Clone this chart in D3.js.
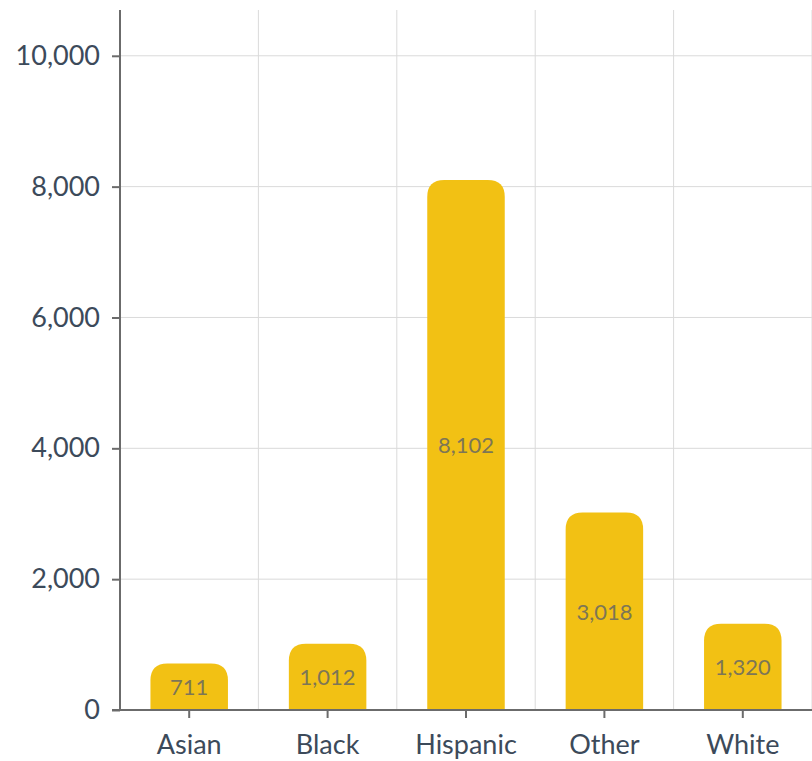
<!DOCTYPE html>
<html>
<head>
<meta charset="utf-8">
<script src="https://cdn.jsdelivr.net/npm/d3@7"></script>
<style>
  html, body { margin: 0; padding: 0; background: #fff; }
  svg { display: block; font-family: Lato, "Open Sans", sans-serif; }
</style>
</head>
<body>
<svg id="chart" width="812" height="761"></svg>
<script>
// Counts by group
const categories = ["Asian", "Black", "Hispanic", "Other", "White"];
const counts = [711, 1012, 8102, 3018, 1320];
const yTicks = [0, 2000, 4000, 6000, 8000, 10000];
const yMax = 10700;

const svg = d3.select("#chart");
const plotLeft = 120, plotRight = 812, plotTop = 10, plotBottom = 710;

const x = d3.scaleBand().domain(categories).range([plotLeft, plotRight]).paddingInner(0.44).paddingOuter(0.22);
const y = d3.scaleLinear().domain([0, yMax]).range([plotBottom, plotTop]);

// Horizontal grid
svg.append("g").selectAll("line").data(yTicks).join("line")
  .attr("x1", plotLeft).attr("x2", plotRight)
  .attr("y1", d => y(d)).attr("y2", d => y(d))
  .attr("stroke", "#dadada").attr("stroke-width", 1);

// Vertical grid at category boundaries
const step = x.step();
const bounds = categories.map((c, i) => plotLeft + step * (i + 1));
svg.append("g").selectAll("line").data(bounds).join("line")
  .attr("x1", d => d).attr("x2", d => d)
  .attr("y1", plotTop).attr("y2", plotBottom)
  .attr("stroke", "#dadada").attr("stroke-width", 1);

// Bars with rounded tops
const radius = 17;
function barPath(x0, w, yTop, yBase) {
  const rr = Math.min(radius, w / 2, (yBase - yTop));
  return `M${x0},${yBase}V${yTop + rr}Q${x0},${yTop} ${x0 + rr},${yTop}H${x0 + w - rr}Q${x0 + w},${yTop} ${x0 + w},${yTop + rr}V${yBase}Z`;
}
const data = categories.map((c, i) => ({ c, v: counts[i] }));
svg.append("g").selectAll("path").data(data).join("path")
  .attr("d", d => barPath(x(d.c), x.bandwidth(), y(d.v), y(0)))
  .attr("fill", "#f2c114");

// Value labels centred in each bar
svg.append("g").selectAll("text").data(data).join("text")
  .attr("x", d => x(d.c) + x.bandwidth() / 2)
  .attr("y", d => (y(d.v) + y(0)) / 2)
  .attr("text-anchor", "middle").attr("dominant-baseline", "central")
  .attr("font-size", 22)
  .attr("fill", "#7d7656")
  .text(d => d3.format(",")(d.v));

// Axes
const axisColor = "#6b6b6b";
const textColor = "#3c4a5a";
const yAxis = svg.append("g").attr("transform", `translate(${plotLeft},0)`)
  .call(d3.axisLeft(y).tickValues(yTicks).tickFormat(d3.format(",")).tickSize(8).tickPadding(12));
const xAxis = svg.append("g").attr("transform", `translate(0,${plotBottom})`)
  .call(d3.axisBottom(x).tickSize(8).tickPadding(17));

[yAxis, xAxis].forEach(g => {
  g.select(".domain").attr("stroke", axisColor).attr("stroke-width", 2);
  g.selectAll(".tick line").attr("stroke", axisColor).attr("stroke-width", 2);
  g.selectAll(".tick text").attr("fill", textColor).attr("font-size", 27).attr("font-family", "Lato, sans-serif");
});
yAxis.select(".domain").attr("d", `M0,${plotTop}V${plotBottom}`);
xAxis.select(".domain").attr("d", `M${plotLeft - 8},0H${plotRight}`);
</script>
</body>
</html>
